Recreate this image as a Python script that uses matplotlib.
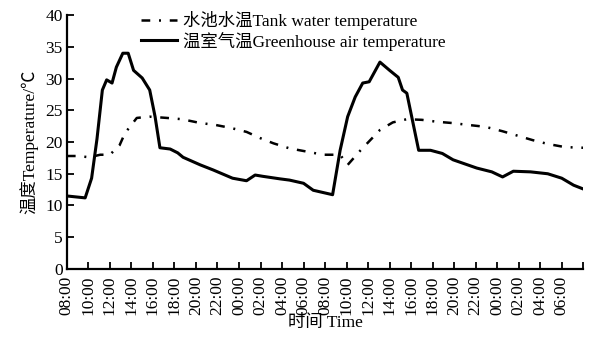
import matplotlib
matplotlib.use("Agg")
import matplotlib.pyplot as plt

plt.rcParams['font.family'] = ['Liberation Serif', 'Noto Sans CJK SC']

# hours after 08:00 on the first day
air_hours = [0, 1.7, 2.3, 2.8, 3.3, 3.7, 4.2, 4.6, 5.2, 5.7, 6.2, 7.0, 7.7, 8.2, 8.65,
             9.6, 10.3, 10.8, 12.4, 13.6, 15.4, 16.7, 17.5, 18.2, 19.8, 20.7, 22.0, 22.9,
             24.7, 25.4, 26.1, 26.8, 27.5, 28.1, 29.1, 30.0, 30.8, 31.2, 31.6, 32.7,
             33.8, 34.9, 35.9, 38.1, 39.5, 40.5, 41.5, 43.1, 44.7, 46.0, 47.1, 48]
air_temp = [11.5, 11.2, 14.3, 20.5, 28.2, 29.8, 29.3, 31.8, 34.0, 34.0, 31.3, 30.1, 28.2,
            24.0, 19.1, 18.9, 18.3, 17.6, 16.4, 15.6, 14.3, 13.9, 14.8, 14.6, 14.2, 14.0,
            13.5, 12.4, 11.7, 18.7, 24.0, 27.1, 29.3, 29.5, 32.6, 31.3, 30.2, 28.2, 27.7,
            18.7, 18.7, 18.2, 17.2, 15.9, 15.3, 14.5, 15.4, 15.3, 15.0, 14.3, 13.2, 12.6]

water_hours = [0, 1.0, 2.1, 3.1, 4.0, 4.9, 5.4, 6.5, 7.7, 9.3, 10.7, 12.4, 13.8, 15.3,
               16.7, 18.0, 19.2, 20.7, 22.6, 23.8, 25.4, 26.1, 27.3, 29.1, 30.3, 31.6,
               33.0, 34.4, 35.8, 37.3, 38.9, 40.5, 41.9, 43.3, 44.7, 46.3, 48]
water_temp = [17.8, 17.8, 17.6, 18.0, 18.0, 19.5, 21.4, 23.8, 24.0, 23.8, 23.6, 23.0,
              22.7, 22.2, 21.6, 20.6, 19.8, 19.0, 18.4, 18.0, 18.0, 16.4, 18.7, 21.9,
              23.1, 23.6, 23.5, 23.2, 23.0, 22.7, 22.4, 21.7, 21.0, 20.3, 19.7, 19.2, 19.1]

tick_hours = list(range(0, 50, 2))
tick_labels = ['08:00', '10:00', '12:00', '14:00', '16:00', '18:00', '20:00', '22:00',
               '00:00', '02:00', '04:00', '06:00',
               '08:00', '10:00', '12:00', '14:00', '16:00', '18:00', '20:00', '22:00',
               '00:00', '02:00', '04:00', '06:00', '']

fig = plt.figure(figsize=(5.97, 3.37), dpi=100)
ax = fig.add_axes([0.112, 0.202, 0.865, 0.753])

ax.plot(water_hours, water_temp, color='black', lw=1.8,
        linestyle=(0, (3.5, 3.5, 0.8, 3.5)), label='水池水温Tank water temperature')
ax.plot(air_hours, air_temp, color='black', lw=2.2, label='温室气温Greenhouse air temperature')

ax.set_xlim(0, 48)
ax.set_ylim(0, 40)
ax.set_xticks(tick_hours)
ax.set_xticklabels(tick_labels, rotation=90)
ax.set_yticks(range(0, 45, 5))

for s in ['top', 'right']:
    ax.spines[s].set_visible(False)
for s in ['left', 'bottom']:
    ax.spines[s].set_linewidth(1.6)
ax.tick_params(direction='in', length=5, width=1.3, labelsize=12.5)
ax.tick_params(axis='x', pad=5)
ax.tick_params(axis='y', pad=3)

ax.set_xlabel('时间 Time', fontsize=12.5, labelpad=0)
ax.set_ylabel('温度Temperature/℃', fontsize=12.5, labelpad=5)

ax.legend(loc='upper left', bbox_to_anchor=(0.13, 1.043), frameon=False, fontsize=12.5,
          handlelength=2.1, handletextpad=0.3, labelspacing=0.08, borderaxespad=0)

fig.savefig('out.png', dpi=100)
